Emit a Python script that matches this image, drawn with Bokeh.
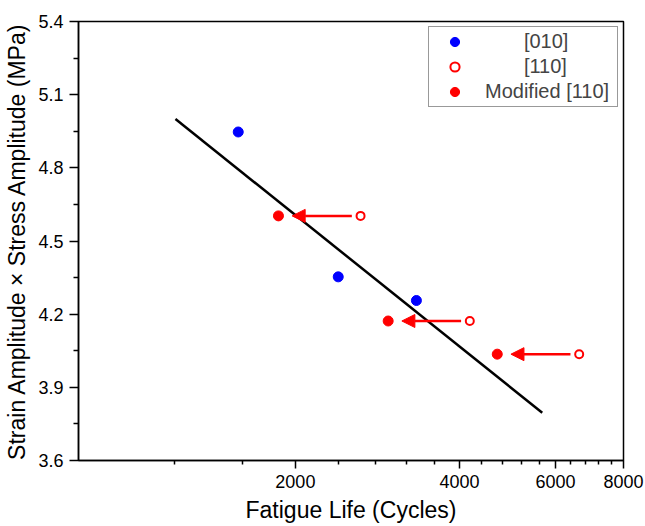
from bokeh.plotting import figure
from bokeh.models import (FixedTicker, PrintfTickFormatter, Range1d, Arrow, NormalHead,
                          ColumnDataSource, Legend, LegendItem)
from bokeh.embed import file_html
from bokeh.resources import INLINE

# ---- data ----
life_010 = [1571, 2397, 3335]
energy_010 = [4.947, 4.353, 4.256]
life_110 = [2634, 4179, 6634]
energy_110 = [4.603, 4.172, 4.036]
life_mod = [1862, 2960, 4693]
energy_mod = [4.603, 4.172, 4.036]
fit_life = [1205, 5675]
fit_energy = [5.0, 3.796]

x_major = [2000, 4000, 6000, 8000]
x_minor = [1200, 1600, 2400, 2800, 3200, 3600, 4400, 4800, 5200, 5600,
           6400, 6800, 7200, 7600]
y_major = [3.6, 3.9, 4.2, 4.5, 4.8, 5.1, 5.4]
y_minor = [3.75, 4.05, 4.35, 4.65, 4.95, 5.25]

series_labels = ["[010]", "[110]", "Modified [110]"]

FONT = "Liberation Sans"
RED = "#ff0000"
BLUE = "#0000ff"

p = figure(width=645, height=526, x_axis_type="log",
           x_range=Range1d(800, 8000), y_range=Range1d(3.6, 5.4),
           output_backend="svg", toolbar_location=None,
           min_border_left=78, min_border_top=21, min_border_right=22,
           min_border_bottom=66,
           x_axis_label="Fatigue Life (Cycles)",
           y_axis_label="Strain Amplitude \u00d7 Stress Amplitude (MPa)")

p.background_fill_color = "white"
p.border_fill_color = "white"
p.outline_line_color = "black"
p.outline_line_width = 1.5
p.xgrid.visible = False
p.ygrid.visible = False

p.xaxis.ticker = FixedTicker(ticks=x_major, minor_ticks=x_minor)
p.xaxis.formatter = PrintfTickFormatter(format="%d")
p.yaxis.ticker = FixedTicker(ticks=y_major, minor_ticks=y_minor)
p.yaxis.formatter = PrintfTickFormatter(format="%.1f")

for ax in (p.xaxis[0], p.yaxis[0]):
    ax.axis_line_color = "black"
    ax.axis_line_width = 1.5
    ax.major_tick_line_color = "black"
    ax.minor_tick_line_color = "black"
    ax.major_tick_line_width = 1.5
    ax.minor_tick_line_width = 1.5
    ax.major_tick_in = 0
    ax.minor_tick_in = 0
    ax.major_label_text_font = FONT
    ax.major_label_text_font_size = "18px"
    ax.major_label_text_color = "black"
    ax.axis_label_text_font = FONT
    ax.axis_label_text_font_size = "23px"
    ax.axis_label_text_font_style = "normal"
    ax.axis_label_text_color = "black"

p.xaxis.major_tick_out = 8
p.xaxis.minor_tick_out = 4
p.xaxis.major_label_standoff = 6
p.xaxis.axis_label_standoff = 6
p.yaxis.major_tick_out = 9
p.yaxis.minor_tick_out = 5
p.yaxis.major_label_standoff = 6
p.yaxis.axis_label_standoff = 5

# fit line
p.line(fit_life, fit_energy, line_color="black", line_width=2.5)

# arrows from [110] to modified [110]
tail_gap = 1.0375
head_gap = 1.0596
arr_src = ColumnDataSource(dict(
    x_start=[v / tail_gap for v in life_110], y_start=energy_110,
    x_end=[v * head_gap for v in life_mod], y_end=energy_mod))
p.add_layout(Arrow(end=NormalHead(size=13, fill_color=RED, line_color=RED, line_width=1),
                   source=arr_src, x_start="x_start", y_start="y_start",
                   x_end="x_end", y_end="y_end",
                   line_color=RED, line_width=2.5))

r_010 = p.scatter(life_010, energy_010, size=10, marker="circle",
                  fill_color=BLUE, line_color=BLUE)
r_110 = p.scatter(life_110, energy_110, size=8, marker="circle",
                  fill_color="white", line_color=RED, line_width=2)
r_mod = p.scatter(life_mod, energy_mod, size=10, marker="circle",
                  fill_color=RED, line_color=RED)

# centre the shorter labels inside the legend's label column
NB = "\u00a0"
pad = NB * 7
legend = Legend(items=[LegendItem(label=pad + series_labels[0], renderers=[r_010]),
                       LegendItem(label=pad + series_labels[1], renderers=[r_110]),
                       LegendItem(label=series_labels[2], renderers=[r_mod])],
                location="top_right", margin=5, padding=3, spacing=2,
                glyph_width=45, glyph_height=23, label_standoff=8,
                label_width=129, label_height=23,
                label_text_font=FONT, label_text_font_size="20px",
                border_line_color="#333333", border_line_width=1,
                background_fill_color="white", background_fill_alpha=1)
p.add_layout(legend)

open("out.html", "w").write(file_html(p, INLINE))
